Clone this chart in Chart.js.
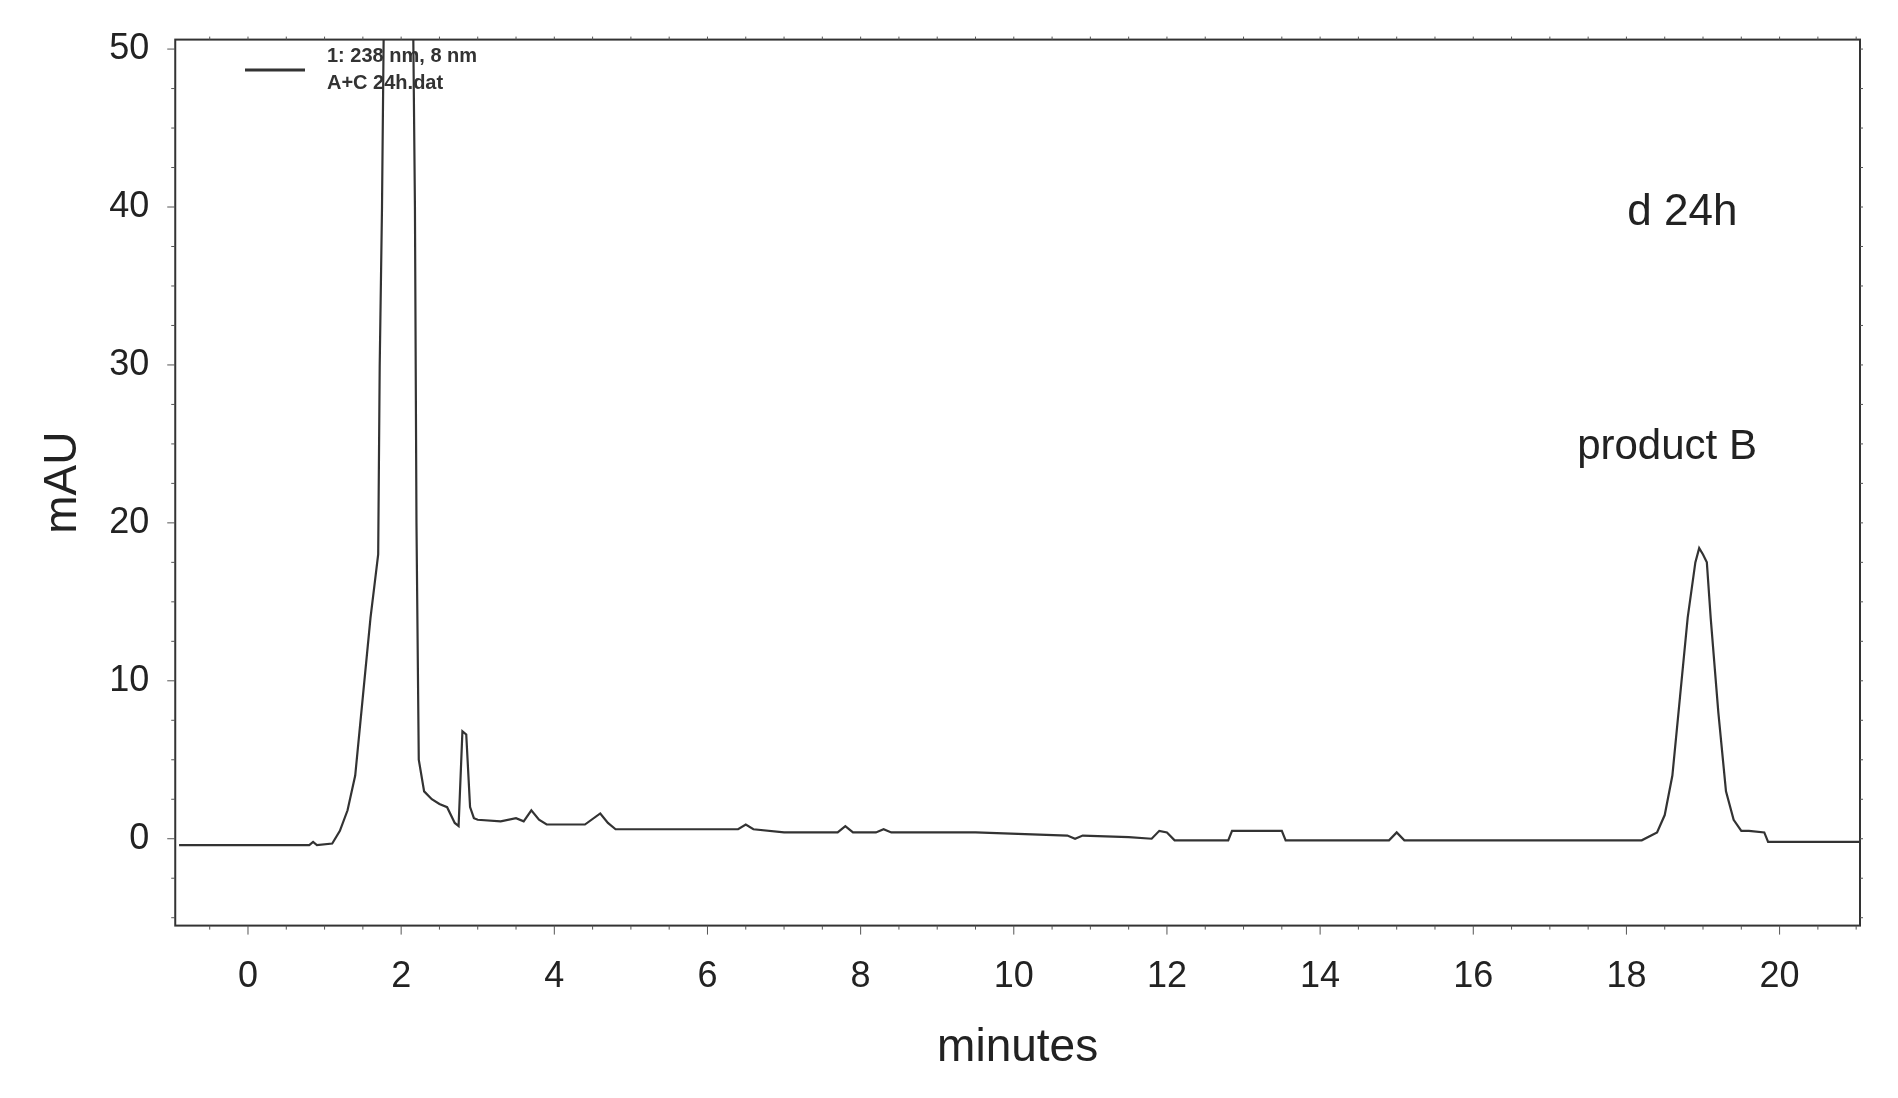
<!DOCTYPE html>
<html><head><meta charset="utf-8">
<script src="https://cdn.jsdelivr.net/npm/chart.js@4"></script>
<style>html,body{margin:0;background:#fff}#w{width:1898px;height:1098px}</style>
</head><body><div id="w"><canvas id="c"></canvas></div>
<script>
const timeMin=[-0.9,0.8,0.85,0.9,1.1,1.2,1.3,1.4,1.5,1.6,1.65,1.7,1.72,1.75,1.78,1.8,1.85,2.1,2.15,2.18,2.2,2.23,2.3,2.4,2.5,2.6,2.7,2.75,2.8,2.85,2.9,2.95,3.0,3.3,3.5,3.6,3.7,3.8,3.9,4.4,4.6,4.7,4.8,5.5,6.4,6.5,6.6,7.0,7.7,7.8,7.9,8.2,8.3,8.4,9.5,10.7,10.8,10.9,11.5,11.8,11.9,12.0,12.1,12.8,12.85,13.5,13.55,14.5,14.9,15.0,15.1,16.5,18.2,18.4,18.5,18.6,18.7,18.8,18.9,18.95,19.0,19.05,19.1,19.2,19.3,19.4,19.5,19.6,19.8,19.85,21.05];
const mAU=[-0.4,-0.4,-0.2,-0.4,-0.3,0.5,1.8,4,9,14,16,18,30,40,55,55,55,55,55,40,20,5,3,2.5,2.2,2,1,0.8,6.8,6.6,2,1.3,1.2,1.1,1.3,1.1,1.8,1.2,0.9,0.9,1.6,1.0,0.6,0.6,0.6,0.9,0.6,0.4,0.4,0.8,0.4,0.4,0.6,0.4,0.4,0.2,0.0,0.2,0.1,0.0,0.5,0.4,-0.1,-0.1,0.5,0.5,-0.1,-0.1,-0.1,0.4,-0.1,-0.1,-0.1,0.4,1.5,4,9,14,17.5,18.4,18,17.5,14,8,3,1.2,0.5,0.5,0.4,-0.2,-0.2];
const xTicks=[0,2,4,6,8,10,12,14,16,18,20];
const yTicks=[0,10,20,30,40,50];
const notes=[{t:'d 24h',x:18.73,y:39.6,size:44},{t:'product B',x:18.53,y:24.8,size:42}];
const legendLines=['1: 238 nm, 8 nm','A+C 24h.dat'];

const pts=timeMin.map((t,i)=>({x:t,y:mAU[i]}));
const deco={id:'deco',afterDraw(ch){
  const c=ch.ctx,xs=ch.scales.x,ys=ch.scales.y,a=ch.chartArea;
  c.save();c.strokeStyle='#333';c.lineWidth=2;
  c.strokeRect(a.left,a.top,a.right-a.left,a.bottom-a.top);
  c.lineWidth=1;c.strokeStyle='#555';
  for(let v=-1;v<=21;v+=0.5){const p=xs.getPixelForValue(v);if(p<a.left||p>a.right)continue;
    const L=(v%2===0)?9:4;c.beginPath();c.moveTo(p,a.bottom);c.lineTo(p,a.bottom+L);c.stroke();
    c.beginPath();c.moveTo(p,a.top);c.lineTo(p,a.top-3);c.stroke();}
  for(let v=-5;v<=50;v+=2.5){const p=ys.getPixelForValue(v);
    const L=(v%10===0)?8:4;c.beginPath();c.moveTo(a.left,p);c.lineTo(a.left-L,p);c.stroke();
    c.beginPath();c.moveTo(a.right,p);c.lineTo(a.right+3,p);c.stroke();}
  c.fillStyle='#222';c.textBaseline='middle';
  notes.forEach(n=>{c.font=n.size+'px Arial, "Liberation Sans", sans-serif';c.textAlign='center';
    c.fillText(n.t,xs.getPixelForValue(n.x),ys.getPixelForValue(n.y));});
  c.font='bold 20px "Liberation Sans", Arial, sans-serif';c.textAlign='left';c.fillStyle='#333';
  c.fillText(legendLines[0],327,56);c.fillText(legendLines[1],327,83);
  c.lineWidth=3;c.strokeStyle='#333';c.beginPath();c.moveTo(245,70);c.lineTo(305,70);c.stroke();
  c.restore();}};
new Chart(document.getElementById('c'),{type:'line',
 data:{datasets:[{data:pts,borderColor:'#333',borderWidth:2.2,pointRadius:0,tension:0,fill:false}]},
 options:{responsive:true,maintainAspectRatio:false,animation:false,clip:true,
  layout:{padding:{top:15,right:38,bottom:18,left:32}},
  plugins:{legend:{display:false},tooltip:{enabled:false}},
  scales:{
   x:{type:'linear',min:-0.95,max:21.05,afterBuildTicks:s=>{s.ticks=xTicks.map(v=>({value:v}))},
     grid:{display:false},border:{display:false},
     ticks:{color:'#222',font:{size:36,family:'Arial, "Liberation Sans", sans-serif'},padding:22,maxRotation:0},
     title:{display:true,text:'minutes',color:'#222',font:{size:46,family:'Arial, "Liberation Sans", sans-serif'},padding:{top:0}}},
   y:{min:-5.5,max:50.6,afterBuildTicks:s=>{s.ticks=yTicks.map(v=>({value:v}))},
     grid:{display:false},border:{display:false},
     ticks:{color:'#222',font:{size:36,family:'Arial, "Liberation Sans", sans-serif'},padding:18},
     title:{display:true,text:'mAU',color:'#222',font:{size:46,family:'Arial, "Liberation Sans", sans-serif'},padding:{bottom:0}}}
  }},plugins:[deco]});
</script></body></html>
